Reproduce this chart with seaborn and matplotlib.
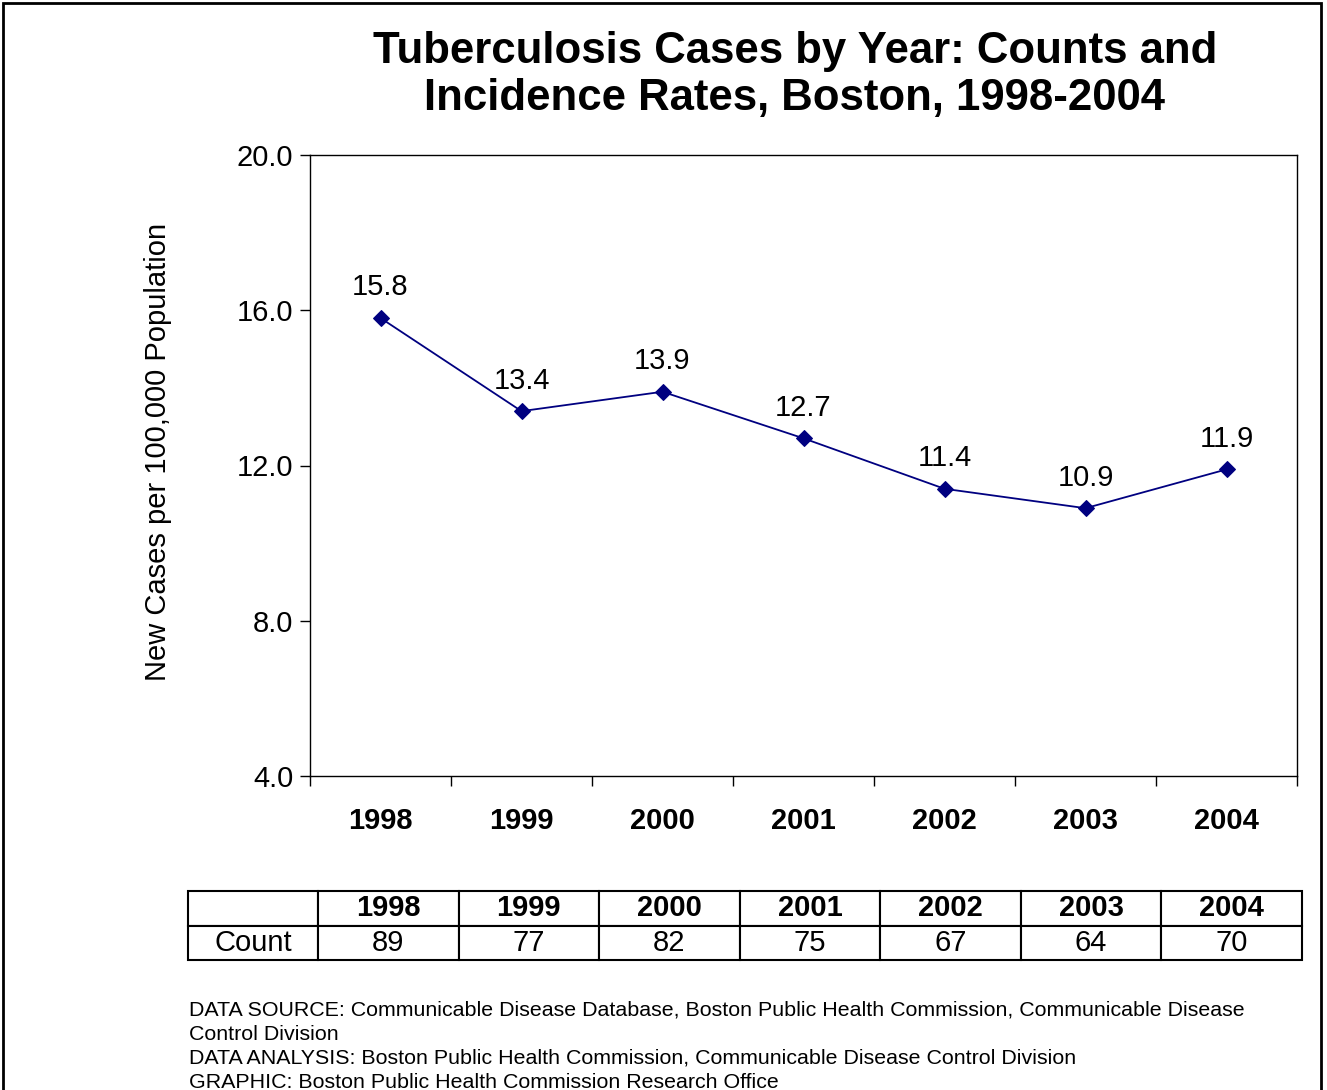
import matplotlib
matplotlib.use("Agg")
import matplotlib.pyplot as plt
import seaborn as sns
import pandas as pd
from matplotlib.patches import Rectangle

years = ["1998", "1999", "2000", "2001", "2002", "2003", "2004"]
rates = [15.8, 13.4, 13.9, 12.7, 11.4, 10.9, 11.9]
counts = [89, 77, 82, 75, 67, 64, 70]
yticks = [4.0, 8.0, 12.0, 16.0, 20.0]

title = "Tuberculosis Cases by Year: Counts and\nIncidence Rates, Boston, 1998-2004"
ylabel = "New Cases per 100,000 Population"
footer = ("DATA SOURCE: Communicable Disease Database, Boston Public Health Commission, Communicable Disease\n"
          "Control Division\n"
          "DATA ANALYSIS: Boston Public Health Commission, Communicable Disease Control Division\n"
          "GRAPHIC: Boston Public Health Commission Research Office")

sns.set_theme(style="white")
plt.rcParams['font.family'] = ['Liberation Sans', 'DejaVu Sans']
plt.rcParams['text.color'] = 'black'
plt.rcParams['axes.labelcolor'] = 'black'
plt.rcParams['xtick.color'] = 'black'
plt.rcParams['ytick.color'] = 'black'

FS = 21

W, H = 1327, 1090
fig = plt.figure(figsize=(W / 100, H / 100), dpi=100)
fig.patch.set_facecolor("white")

def fx(px): return px / W
def fy(py): return 1 - py / H

# outer frame
fig.add_artist(Rectangle((fx(3), fy(1092)), fx(1321) - fx(3), fy(3) - fy(1092),
                         transform=fig.transFigure, fill=False, edgecolor="black", lw=2))

ax = fig.add_axes([fx(310), fy(776), fx(1297) - fx(310), fy(155) - fy(776)])
df = pd.DataFrame({"year": years, "rate": rates})
df["x"] = range(len(years))
sns.lineplot(data=df, x="x", y="rate", ax=ax, color="#000080", lw=1.3,
             marker="D", markersize=8, markeredgecolor="#000080", legend=False)

ax.set_xlim(-0.5, len(years) - 0.5)
ax.set_ylim(yticks[0], yticks[-1])
ax.set_yticks(yticks)
ax.set_yticklabels([f"{v:.1f}" for v in yticks], fontsize=FS)
ax.set_xticks([i - 0.5 for i in range(len(years) + 1)])
ax.set_xticklabels([])
ax.tick_params(axis="both", direction="out", length=7, width=1, color="black",
               bottom=True, left=True, labelcolor="black")
ax.tick_params(axis="y", pad=5)
for i, y in enumerate(years):
    ax.text(i, -0.072, y, transform=ax.get_xaxis_transform(), ha="center", va="center",
            fontsize=FS, fontweight="bold")
for sp in ax.spines.values():
    sp.set_color("black")
    sp.set_linewidth(1)
ax.set_xlabel("")
ax.set_ylabel(ylabel, fontsize=FS)
ax.yaxis.set_label_coords((172 - 310) / 987, (776 - 452) / 621)
ax.grid(False)

for i, v in enumerate(rates):
    ax.annotate(f"{v:.1f}", (i, v), xytext=(0, 22), textcoords="offset points",
                ha="center", va="center", fontsize=FS)

fig.text(fx(795), fy(75), title, ha="center", va="center", fontsize=31.5,
         fontweight="bold", linespacing=1.2)

# table
tax = fig.add_axes([fx(188), fy(960), fx(1302) - fx(188), fy(891) - fy(960)])
tax.set_axis_off()
col_w0 = 130
col_w = (1302 - 188 - col_w0) / len(years)
total = 1302 - 188
widths = [col_w0 / total] + [col_w / total] * len(years)
cells = [[""] + years, ["Count"] + [str(c) for c in counts]]
tbl = tax.table(cellText=cells, colWidths=widths, cellLoc="center",
                bbox=[0, 0, 1, 1])
tbl.auto_set_font_size(False)
for (r, c), cell in tbl.get_celld().items():
    cell.set_edgecolor("black")
    cell.set_linewidth(1.5)
    cell.get_text().set_fontsize(FS)
    cell.get_text().set_color("black")
    if r == 0:
        cell.get_text().set_fontweight("bold")

fig.text(fx(189), fy(1001), footer, ha="left", va="top", fontsize=15.4, linespacing=1.33)

fig.savefig("out.png", dpi=100, facecolor="white")
